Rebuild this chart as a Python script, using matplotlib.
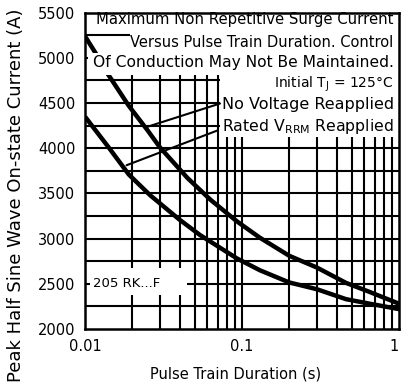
import numpy as np
import matplotlib
matplotlib.use("Agg")
import matplotlib.pyplot as plt
from matplotlib.patches import Rectangle

# curve readings (pulse train duration s, peak current A)
dur_noV = [0.01, 0.012, 0.014, 0.019, 0.025, 0.03, 0.045, 0.063, 0.093, 0.13, 0.2, 0.3, 0.46, 0.65, 1.0]
amp_noV = [5240, 5020, 4820, 4470, 4200, 4010, 3670, 3430, 3190, 3010, 2810, 2680, 2510, 2410, 2280]
dur_vrrm = [0.01, 0.014, 0.019, 0.026, 0.04, 0.054, 0.093, 0.13, 0.2, 0.3, 0.46, 0.65, 1.0]
amp_vrrm = [4350, 4020, 3710, 3480, 3210, 3040, 2780, 2650, 2515, 2440, 2330, 2280, 2220]

x_ticks = [0.01, 0.1, 1]
x_ticklabels = ["0.01", "0.1", "1"]
y_ticks = [2000, 2500, 3000, 3500, 4000, 4500, 5000, 5500]

title_lines = ["Maximum Non Repetitive Surge Current",
               "Versus Pulse Train Duration. Control",
               "Of Conduction May Not Be Maintained.",
               r"Initial T$_\mathregular{J}$ = 125°C"]
lbl_noV = "No Voltage Reapplied"
lbl_vrrm = r"Rated V$_\mathregular{RRM}$ Reapplied"
part_lbl = "205 RK...F"

fig = plt.figure(figsize=(4.02, 3.92), dpi=100)
ax = fig.add_axes([85/402, 63/392, 314/402, 316.3/392])
ax.set_xscale("log")
ax.set_xlim(0.01, 1)
ax.set_ylim(2000, 5500)

# grid
minor_x = [m * d for d in (0.01, 0.1) for m in range(1, 10)]
for xv in minor_x[1:]:
    ax.axvline(xv, color="black", lw=1.5, zorder=1)
for yv in range(2250, 5500, 250):
    ax.axhline(yv, color="black", lw=1.5, zorder=1)

ax.plot(dur_noV, amp_noV, color="black", lw=3.2, zorder=2, solid_capstyle="butt")
ax.plot(dur_vrrm, amp_vrrm, color="black", lw=3.2, zorder=2, solid_capstyle="butt")

# white areas behind the text
for r in [(0.43, 0.607, 0.57, 0.393), (0.028, 0.945, 0.972, 0.055),
          (0.143, 0.873, 0.857, 0.072), (0.008, 0.803, 0.992, 0.07),
          (0.016, 0.107, 0.31, 0.086)]:
    ax.add_patch(Rectangle(r[:2], r[2], r[3], transform=ax.transAxes,
                           facecolor="white", edgecolor="none", zorder=3))

ys = [0.977, 0.907, 0.841, 0.775]
sizes = [10.7, 10.5, 11.2, 10]
for t, y, fs in zip(title_lines, ys, sizes):
    ax.text(0.983, y, t, transform=ax.transAxes, ha="right", va="center",
            fontsize=fs, zorder=4)
ax.text(0.983, 0.711, lbl_noV, transform=ax.transAxes, ha="right", va="center",
        fontsize=11.5, zorder=4)
ax.text(0.983, 0.639, lbl_vrrm, transform=ax.transAxes, ha="right", va="center",
        fontsize=11.3, zorder=4)
ax.text(0.025, 0.145, part_lbl, transform=ax.transAxes, ha="left", va="center",
        fontsize=9.5, zorder=4)

# leader lines
ax.annotate("", xy=(0.0241, 4229), xytext=(0.0724, 4495),
            arrowprops=dict(arrowstyle="-", lw=1.5, color="black",
                            shrinkA=0, shrinkB=0), zorder=4)
ax.annotate("", xy=(0.0184, 3812), xytext=(0.0703, 4199),
            arrowprops=dict(arrowstyle="-", lw=1.5, color="black",
                            shrinkA=0, shrinkB=0), zorder=4)

ax.set_xticks(x_ticks)
ax.set_xticklabels(x_ticklabels)
ax.get_xticklabels()[-1].set_horizontalalignment("right")
ax.set_yticks(y_ticks)
ax.xaxis.set_minor_locator(plt.NullLocator())
ax.tick_params(length=0, labelsize=10.5, pad=7)
for s in ax.spines.values():
    s.set_linewidth(1.8)
    s.set_zorder(5)

ax.set_xlabel("Pulse Train Duration (s)", fontsize=10.5)
ax.xaxis.set_label_coords(0.478, -0.117)
ax.set_ylabel("Peak Half Sine Wave On-state Current (A)", fontsize=13)
ax.yaxis.set_label_coords(-0.192, 0.424)

fig.savefig("out.png", dpi=100)
